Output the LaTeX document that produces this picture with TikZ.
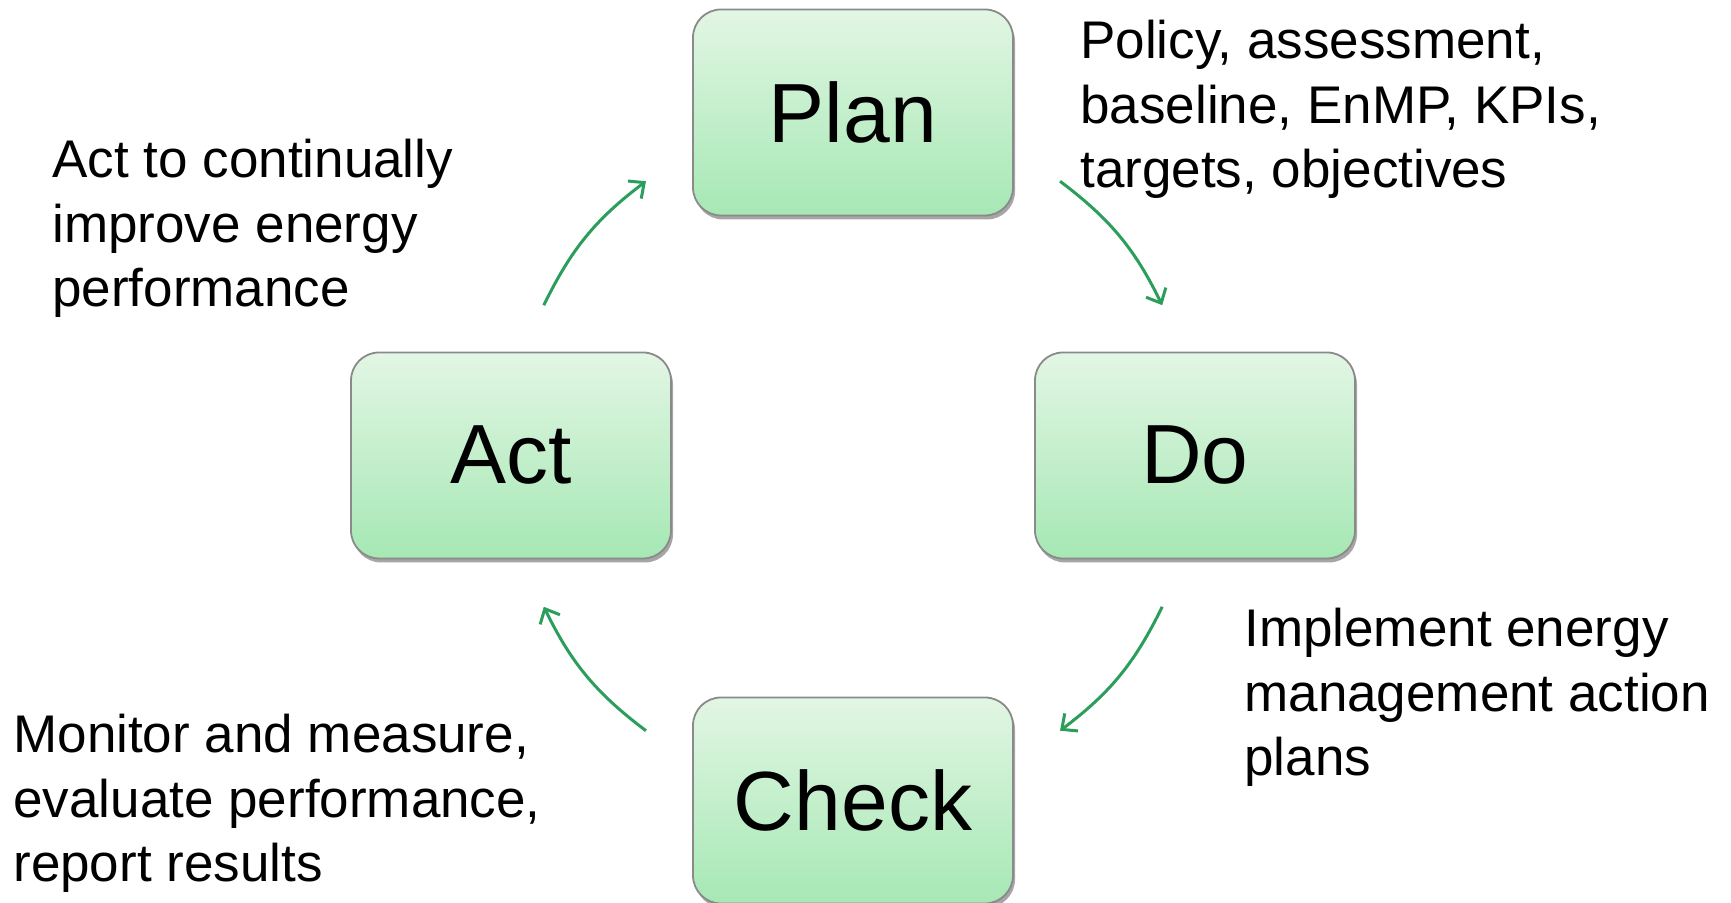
\documentclass[tikz,border=0pt]{standalone}
\usepackage{fontspec}
\setmainfont{Liberation Sans}
\usetikzlibrary{arrows.meta,shadows,calc}
\definecolor{boxtop}{HTML}{E2F6E4}
\definecolor{boxbot}{HTML}{A6E8B4}
\definecolor{boxedge}{HTML}{8A8A8A}
\definecolor{arrgreen}{HTML}{2A9E5A}
\tikzset{
  phase/.style={rounded corners=14pt, draw=boxedge, line width=0.9pt,
    top color=boxtop, bottom color=boxbot,
    minimum width=160pt, minimum height=103pt, inner sep=0pt,
    font=\fontsize{42}{50}\selectfont,
    drop shadow={shadow xshift=1pt, shadow yshift=-2pt, fill=black, opacity=0.35}},
  note/.style={anchor=base west, align=left, inner sep=0pt,
    font=\fontsize{26.5}{32.25}\selectfont},
  cyc/.style={draw=arrgreen, line width=1.5pt,
    -{Straight Barb[length=6pt,width=11pt]}}
}
\begin{document}
\begin{tikzpicture}[x=0.5pt,y=0.5pt]
\useasboundingbox (0,0) rectangle (1731,903);
\node[phase] (plan)  at (853,790.5) {Plan};
\node[phase] (do)    at (1195,447.5) {Do};
\node[phase] (act)   at (511,447.5) {Act};
\node[phase] (check) at (853,102.5) {Check};
\coordinate (c) at (853,447);
\coordinate (pd1) at ($(c)+(53:344)$);
\coordinate (pd2) at ($(c)+(26:344)$);
\coordinate (dc1) at ($(c)+(-26:344)$);
\coordinate (dc2) at ($(c)+(-53:344)$);
\coordinate (ca1) at ($(c)+(-127:344)$);
\coordinate (ca2) at ($(c)+(-154:344)$);
\coordinate (ap1) at ($(c)+(154:344)$);
\coordinate (ap2) at ($(c)+(127:344)$);
\draw[cyc] (pd1) to[bend left=13.5] (pd2);
\draw[cyc] (dc1) to[bend left=13.5] (dc2);
\draw[cyc] (ca1) to[bend left=13.5] (ca2);
\draw[cyc] (ap1) to[bend left=13.5] (ap2);
\node[note] (tplan) at (1080,715) {Policy, assessment,\\baseline, EnMP, KPIs,\\targets, objectives};
\node[note] (tdo) at (1244,127) {Implement energy\\management action\\plans};
\node[note] (tcheck) at (13,21) {Monitor and measure,\\evaluate performance,\\report results};
\node[note] (tact) at (52,596) {Act to continually\\improve energy\\performance};
\end{tikzpicture}
\end{document}
